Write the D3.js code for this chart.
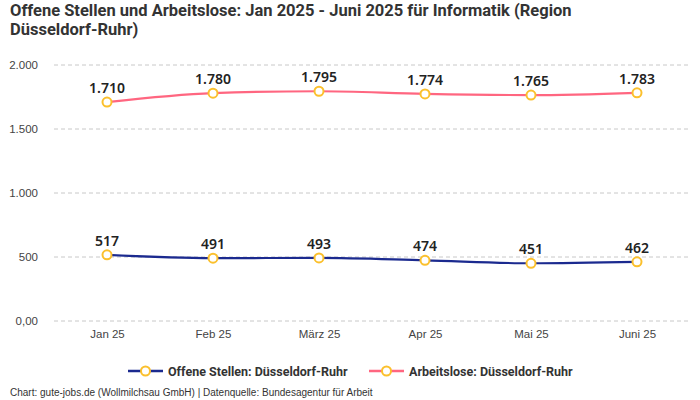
<!DOCTYPE html>
<html>
<head>
<meta charset="utf-8">
<script src="https://cdn.jsdelivr.net/npm/d3@7"></script>
<style>
  body { margin: 0; background: #fff; }
  text { font-family: "Roboto", sans-serif; }
</style>
</head>
<body>
<div id="chart"></div>
<script>
var months = ["Jan 25", "Feb 25", "März 25", "Apr 25", "Mai 25", "Juni 25"]
var offeneStellen = [517, 491, 493, 474, 451, 462]
var arbeitslose = [1710, 1780, 1795, 1774, 1765, 1783]
var yTicks = [0, 500, 1000, 1500, 2000]
var yTickLabels = ["0,00", "500", "1.000", "1.500", "2.000"]
var seriesNames = ["Offene Stellen: Düsseldorf-Ruhr", "Arbeitslose: Düsseldorf-Ruhr"]
var seriesColors = ["#1b2a8f", "#ff6680"]

var width = 700, height = 400
var svg = d3.select("#chart").append("svg")
    .attr("width", width)
    .attr("height", height)

var fmt = d3.formatLocale({decimal: ",", thousands: ".", grouping: [3], currency: ["", "€"]}).format(",d")

/* Title */
var title = svg.append("text")
    .attr("x", 10)
    .style("font-size", "16.5px")
    .style("font-weight", "bold")
    .style("fill", "#333")
title.append("tspan").attr("x", 10).attr("y", 16).text("Offene Stellen und Arbeitslose: Jan 2025 - Juni 2025 für Informatik (Region")
title.append("tspan").attr("x", 10).attr("y", 35).text("Düsseldorf-Ruhr)")

/* Scales */
var xScale = d3.scalePoint()
    .domain(months)
    .range([54, 690])
    .padding(0.5)

var yScale = d3.scaleLinear()
    .domain([0, 2000])
    .range([321, 65])

/* Grid */
svg.append("g")
    .selectAll("line")
    .data(yTicks).enter()
    .append("line")
    .attr("x1", 54)
    .attr("x2", 690)
    .attr("y1", d => yScale(d))
    .attr("y2", d => yScale(d))
    .style("stroke", "#c8c8c8")
    .style("stroke-dasharray", "4,3")

/* Axes */
var yAxis = d3.axisLeft(yScale)
    .tickValues(yTicks)
    .tickFormat((d, i) => yTickLabels[i])
    .tickSize(0)
    .tickPadding(0)

svg.append("g")
    .attr("class", "y axis")
    .attr("transform", "translate(38,0)")
    .call(yAxis)
    .call(g => g.select(".domain").remove())
    .selectAll("text")
        .style("font-family", "'Liberation Sans', sans-serif")
        .style("font-size", "11.5px")
        .style("fill", "#444")

var xAxis = d3.axisBottom(xScale).tickSize(0).tickPadding(0)

svg.append("g")
    .attr("class", "x axis")
    .attr("transform", "translate(0,330)")
    .call(xAxis)
    .call(g => g.select(".domain").remove())
    .selectAll("text")
        .style("font-family", "'Liberation Sans', sans-serif")
        .style("font-size", "11.5px")
        .style("fill", "#444")

/* Lines */
var data = [offeneStellen, arbeitslose]

var line = d3.line()
    .curve(d3.curveMonotoneX)
    .x((d, i) => xScale(months[i]))
    .y(d => yScale(d))

svg.append("g").selectAll("path")
    .data(data).enter()
    .append("path")
    .attr("d", d => line(d))
    .style("fill", "none")
    .style("stroke", (d, i) => seriesColors[i])
    .style("stroke-width", 2.2)

/* Markers & labels */
data.forEach(values => {
    var g = svg.append("g")
    g.selectAll("circle")
        .data(values).enter()
        .append("circle")
        .attr("cx", (d, i) => xScale(months[i]))
        .attr("cy", d => yScale(d))
        .attr("r", 4.5)
        .style("fill", "#fff")
        .style("stroke", "#fbc02d")
        .style("stroke-width", 2)
    g.selectAll("text")
        .data(values).enter()
        .append("text")
        .attr("x", (d, i) => xScale(months[i]))
        .attr("y", d => yScale(d) - 9)
        .attr("text-anchor", "middle")
        .style("font-family", "'Noto Sans', sans-serif")
        .style("font-size", "14px")
        .style("font-weight", "600")
        .style("fill", "#222")
        .text(d => fmt(d))
})

/* Legend */
var legendX = [128, 369]
var legend = svg.append("g")
    .selectAll("g")
    .data(seriesNames).enter()
    .append("g")
    .attr("transform", (d, i) => `translate(${legendX[i]},371)`)
legend.append("line")
    .attr("x1", 0).attr("x2", 35)
    .style("stroke", (d, i) => seriesColors[i])
    .style("stroke-width", 2.5)
legend.append("circle")
    .attr("cx", 17.5)
    .attr("r", 4.5)
    .style("fill", "#fff")
    .style("stroke", "#fbc02d")
    .style("stroke-width", 2)
legend.append("text")
    .attr("x", 40)
    .attr("y", 4.5)
    .style("font-size", "12.5px")
    .style("font-weight", "bold")
    .style("fill", "#333")
    .text(d => d)

/* Footer */
svg.append("text")
    .attr("x", 10)
    .attr("y", 396)
    .style("font-family", "'Liberation Sans', sans-serif")
    .style("font-size", "10px")
    .style("fill", "#333")
    .text("Chart: gute-jobs.de (Wollmilchsau GmbH) | Datenquelle: Bundesagentur für Arbeit")
</script>
</body>
</html>
